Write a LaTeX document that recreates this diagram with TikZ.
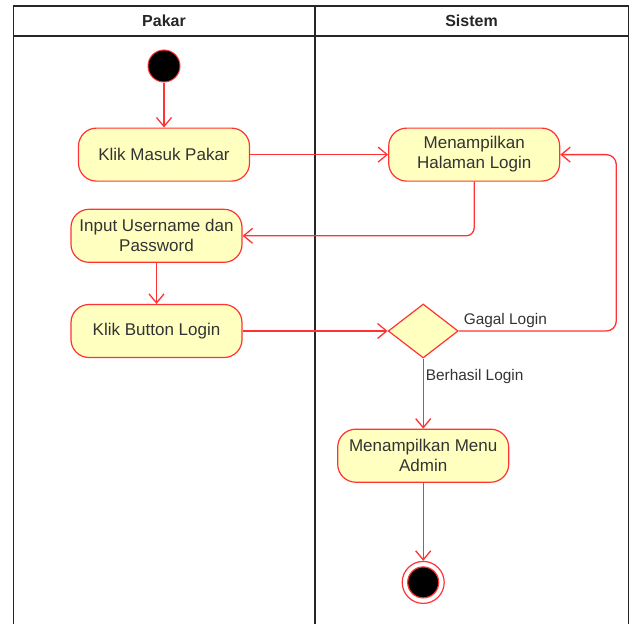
\documentclass[tikz,border=0pt]{standalone}
\usepackage{fontspec}
\setmainfont{Liberation Sans}
\usepackage{tikz}
\usetikzlibrary{arrows.meta, positioning, shapes.geometric}
\definecolor{umlred}{HTML}{FF3333}
\definecolor{umlyellow}{HTML}{FFFFC0}
\definecolor{lanegray}{HTML}{262626}
\tikzset{
    action/.style={rectangle, draw=umlred, fill=umlyellow, line width=1.2pt, rounded corners=18pt, minimum width=171pt, minimum height=53pt, inner sep=2pt, align=center, text=black!80, font=\fontsize{17}{20}\selectfont},
    decision/.style={diamond, draw=umlred, fill=umlyellow, line width=1.2pt, minimum width=70pt, minimum height=54pt, inner sep=0pt},
    startdot/.style={circle, draw=umlred, fill=black, line width=1pt, minimum size=32pt, inner sep=0pt},
    enddot/.style={circle, draw=umlred, fill=white, line width=1.2pt, minimum size=42pt, inner sep=0pt, path picture={\fill[black, draw=umlred] (path picture bounding box.center) circle (15.5pt);}},
    lanehead/.style={font=\bfseries\fontsize{16}{19}\selectfont, text=black!85},
    guard/.style={font=\fontsize{15.4}{18}\selectfont, text=black!80},
    lane/.style={draw=lanegray, line width=1.6pt},
    flow/.style={-{Straight Barb[length=9pt, width=15pt]}, draw=umlred, line width=1.3pt}
}
\begin{document}
\begin{tikzpicture}[x=1pt, y=-1pt]
                \useasboundingbox (0,0) rectangle (631,624);
                \draw[lane] (13.5,624) -- (13.5,6) -- (628.5,6) -- (628.5,624);
                \draw[lane] (13.5,36) -- (628.5,36);
                \draw[lane] (314.7,6) -- (314.7,624);
                \node[lanehead] (pakar) at (164,21) {Pakar};
                \node[lanehead] (sistem) at (471.5,21) {Sistem};
                \node[startdot] (start) at (164,66) {};
                \node[action, below=45pt of start] (masuk) {Klik Masuk Pakar};
                \node[action, right=138pt of masuk] (halaman) {Menampilkan\\Halaman Login};
                \node[action, below=27pt of masuk, xshift=-7.5pt] (input) {Input Username dan\\Password};
                \node[action, below=41pt of input] (tombol) {Klik Button Login};
                \node[decision, right=145pt of tombol] (keputusan) {};
                \node[action, below=70pt of keputusan] (menu) {Menampilkan Menu\\Admin};
                \node[enddot, below=78pt of menu] (akhir) {};
                \draw[flow] (start) -- (masuk);
                \draw[flow] (masuk) -- (halaman);
                \draw[flow, rounded corners=8pt] (halaman.south) |- (input.east);
                \draw[flow] (input) -- (tombol);
                \draw[flow] (tombol) -- (keputusan);
                \draw[flow, rounded corners=10pt] (keputusan.east)
                    node[guard, anchor=south west, xshift=1pt, yshift=-1pt] {Gagal Login}
                    -| ([xshift=56pt]halaman.east) -- (halaman.east);
                \draw[flow] (keputusan.south) -- (menu.north)
                    node[guard, pos=0.26, anchor=west, inner sep=2pt] {Berhasil Login};
                \draw[flow] (menu) -- (akhir);
\end{tikzpicture}
\end{document}
